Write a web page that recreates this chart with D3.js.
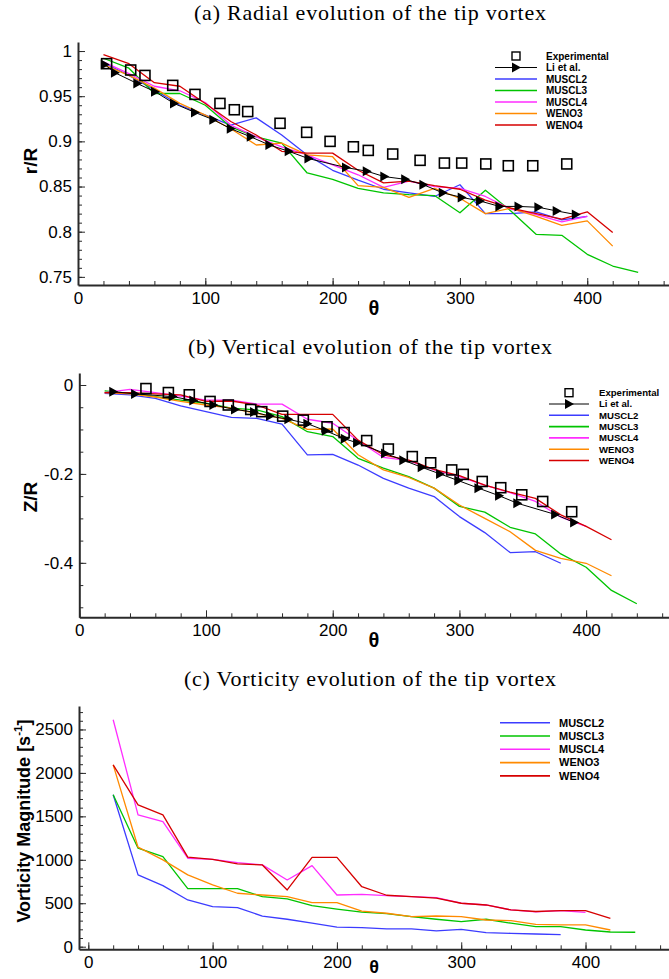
<!DOCTYPE html>
<html>
<head>
<meta charset="utf-8">
<script src="https://cdn.jsdelivr.net/npm/d3@7"></script>
<style>
body { margin: 0; background: #fff; }
svg { display: block; }
.tick text { font-family: "Liberation Sans", Arial, sans-serif; font-size: 17px; fill: #000; }
</style>
</head>
<body>
<script>
'use strict'

// CFD runs are sampled every 20 deg of wake age
const thetaSteps = [20, 40, 60, 80, 100, 120, 140, 160, 180, 200, 220, 240, 260, 280, 300, 320, 340, 360, 380, 400, 420, 440]
const schemeNames = ['MUSCL2', 'MUSCL3', 'MUSCL4', 'WENO3', 'WENO4']
const schemeColors = ['#3c3cff', '#00c400', '#ff2cff', '#ff8a00', '#d60000']

// (a) radial position r/R
const radialExpTheta = [22.5, 41.4, 52.6, 74.4, 91.9, 111.5, 122.8, 133.3, 158.7, 179.6, 198, 216.3, 228, 247.2, 268.7, 287.8, 301.4, 320.3, 338, 357.2, 383.9]
const radialExp = [0.986, 0.979, 0.973, 0.962, 0.952, 0.942, 0.935, 0.933, 0.920, 0.910, 0.900, 0.894, 0.890, 0.886, 0.879, 0.876, 0.876, 0.875, 0.873, 0.873, 0.875]
const radialLiTheta = [21, 29, 46.6, 60.5, 75.4, 91.9, 106.3, 120, 135.7, 150.3, 165.5, 181, 210.5, 226.8, 240.6, 257, 271.3, 286.5, 301.4, 315.8, 331, 346, 361.6, 376, 391]
const radialLi = [0.985, 0.976, 0.964, 0.955, 0.942, 0.932, 0.924, 0.914, 0.905, 0.896, 0.889, 0.881, 0.871, 0.867, 0.861, 0.858, 0.852, 0.843, 0.838, 0.834, 0.828, 0.828, 0.827, 0.823, 0.819]
const radialMUSCL2 = [0.987, 0.973, 0.957, 0.940, 0.929, 0.918, 0.926, 0.907, 0.885, 0.868, 0.857, 0.847, 0.843, 0.839, 0.852, 0.820, 0.820, 0.822, 0.813, 0.817]
const radialMUSCL3 = [0.992, 0.981, 0.953, 0.953, 0.940, 0.916, 0.905, 0.898, 0.865, 0.858, 0.848, 0.843, 0.841, 0.840, 0.821, 0.846, 0.823, 0.797, 0.796, 0.775, 0.762, 0.755]
const radialMUSCL4 = [0.988, 0.975, 0.961, 0.956, 0.943, 0.918, 0.905, 0.894, 0.885, 0.874, 0.863, 0.849, 0.856, 0.850, 0.848, 0.839, 0.825, 0.819, 0.811, 0.817]
const radialWENO3 = [0.985, 0.973, 0.959, 0.942, 0.929, 0.914, 0.896, 0.898, 0.885, 0.883, 0.851, 0.849, 0.838, 0.848, 0.837, 0.820, 0.826, 0.817, 0.807, 0.812, 0.784]
const radialWENO4 = [0.996, 0.986, 0.965, 0.961, 0.942, 0.922, 0.907, 0.889, 0.887, 0.887, 0.868, 0.854, 0.856, 0.851, 0.847, 0.835, 0.826, 0.820, 0.814, 0.822, 0.799]
const radialTicks = [0.75, 0.8, 0.85, 0.9, 0.95, 1]

// (b) vertical position Z/R
const verticalExpTheta = [52.6, 70.3, 86.8, 103.2, 117.6, 135.3, 144, 160.5, 176.8, 195.5, 209, 226.8, 243.9, 262.8, 277.3, 293.9, 303, 318, 332.6, 349.2, 365.7, 388.6]
const verticalExp = [-0.008, -0.017, -0.022, -0.037, -0.045, -0.055, -0.060, -0.070, -0.079, -0.094, -0.107, -0.125, -0.144, -0.161, -0.175, -0.191, -0.201, -0.217, -0.231, -0.247, -0.262, -0.285]
const verticalLiTheta = [26.8, 44, 73.7, 90, 105.8, 122.9, 137.9, 150.5, 165, 180, 194.5, 209.5, 219.2, 241.3, 255.7, 270.2, 284.7, 299.1, 315, 331.3, 345.7, 375.5, 390.5]
const verticalLi = [-0.015, -0.020, -0.026, -0.035, -0.045, -0.055, -0.061, -0.070, -0.077, -0.087, -0.103, -0.121, -0.130, -0.154, -0.169, -0.185, -0.200, -0.215, -0.232, -0.249, -0.266, -0.291, -0.309]
const verticalMUSCL2 = [-0.019, -0.022, -0.030, -0.047, -0.060, -0.073, -0.075, -0.088, -0.157, -0.156, -0.180, -0.210, -0.232, -0.251, -0.296, -0.332, -0.377, -0.375, -0.401]
const verticalMUSCL3 = [-0.013, -0.019, -0.026, -0.034, -0.041, -0.052, -0.056, -0.071, -0.105, -0.116, -0.165, -0.187, -0.206, -0.232, -0.273, -0.286, -0.320, -0.335, -0.380, -0.410, -0.462, -0.492]
const verticalMUSCL4 = [-0.017, -0.010, -0.017, -0.025, -0.034, -0.034, -0.043, -0.043, -0.077, -0.086, -0.125, -0.163, -0.170, -0.191, -0.206, -0.225, -0.242, -0.262, -0.297, -0.318]
const verticalWENO3 = [-0.017, -0.020, -0.027, -0.037, -0.045, -0.052, -0.064, -0.075, -0.100, -0.099, -0.157, -0.191, -0.208, -0.232, -0.270, -0.300, -0.330, -0.372, -0.390, -0.401, -0.429]
const verticalWENO4 = [-0.017, -0.017, -0.020, -0.022, -0.037, -0.036, -0.045, -0.066, -0.066, -0.066, -0.124, -0.157, -0.169, -0.190, -0.204, -0.225, -0.241, -0.255, -0.292, -0.318, -0.348]
const verticalTicks = [-0.4, -0.2, 0]

// (c) vorticity magnitude [1/s]
const vortMUSCL2 = [1748, 826, 703, 538, 461, 449, 353, 316, 270, 225, 219, 204, 204, 181, 200, 161, 154, 146, 138]
const vortMUSCL3 = [1748, 1134, 1037, 668, 668, 668, 576, 550, 472, 432, 398, 380, 346, 316, 288, 316, 270, 230, 230, 192, 169, 166]
const vortMUSCL4 = [2612, 1517, 1440, 1018, 1006, 968, 941, 768, 933, 595, 603, 587, 576, 565, 500, 480, 423, 400, 415, 396]
const vortWENO3 = [2093, 1145, 999, 826, 711, 615, 595, 576, 507, 507, 409, 385, 346, 353, 346, 307, 300, 258, 250, 250, 192]
const vortWENO4 = [2093, 1632, 1517, 1030, 1006, 952, 941, 653, 1027, 1027, 690, 592, 576, 558, 500, 480, 423, 405, 415, 415, 327]
const vortTicks = [0, 500, 1000, 1500, 2000, 2500]

const thetaTicks = [0, 100, 200, 300, 400]

const W = 669, H = 979
const svg = d3.select('body').append('svg').attr('width', W).attr('height', H)
svg.append('rect').attr('width', W).attr('height', H).attr('fill', '#fff')

const sans = '"Liberation Sans", Arial, sans-serif'
const serif = '"Liberation Serif", "Times New Roman", serif'
const triangle = 'M-4,-5L5,0L-4,5Z'   // Li et al. marker, pointing right

function drawPanel(p) {
    const g = svg.append('g')
    const x = d3.scaleLinear().domain(p.xDomain).range(p.xRange)
    const y = d3.scaleLinear().domain(p.yDomain).range(p.yRange)
    const yBase = p.yRange[0], xBase = p.xRange[0]

    // minor ticks first, then major ticks with the axis lines
    g.append('g').attr('transform', `translate(0,${yBase})`)
        .call(d3.axisBottom(x).tickValues(d3.range(0, p.xDomain[1], 20)).tickFormat('').tickSizeInner(-4).tickSizeOuter(0))
        .call(a => a.select('.domain').remove())
    g.append('g').attr('transform', `translate(${xBase},0)`)
        .call(d3.axisLeft(y).tickValues(p.yMinor).tickFormat('').tickSizeInner(-4).tickSizeOuter(0))
        .call(a => a.select('.domain').remove())
    g.append('g').attr('transform', `translate(0,${yBase})`)
        .call(d3.axisBottom(x).tickValues(thetaTicks).tickSizeInner(-7).tickSizeOuter(0).tickPadding(7))
    g.append('g').attr('transform', `translate(${xBase},0)`)
        .call(d3.axisLeft(y).tickValues(p.yTicks).tickFormat(d => String(d)).tickSizeInner(-7).tickSizeOuter(0).tickPadding(6))
    g.selectAll('.domain').attr('stroke', '#2a2a2a').attr('stroke-width', 2)
    g.selectAll('.tick line').attr('stroke', '#2a2a2a')

    // titles
    svg.append('text').attr('x', 370).attr('y', p.titleY).attr('text-anchor', 'middle')
        .attr('font-family', serif).attr('font-size', 22)
        .attr('textLength', p.titleWidth).attr('lengthAdjust', 'spacing').text(p.title)
    svg.append('text').attr('x', 374).attr('y', yBase + p.thetaDy).attr('text-anchor', 'middle')
        .attr('font-family', sans).attr('font-weight', 'bold').attr('font-size', p.thetaSize).text('θ')
    const yl = svg.append('text').attr('transform', `translate(${p.yLabelX},${p.yLabelY}) rotate(-90)`)
        .attr('text-anchor', 'middle').attr('font-family', sans).attr('font-weight', 'bold')
        .attr('font-size', p.yLabelSize).text(p.yLabel)
    if (p.yLabelSup) {
        yl.append('tspan').attr('font-size', p.yLabelSize * 0.65).attr('dy', -8).text(p.yLabelSup)
        yl.append('tspan').attr('dy', 8).text(']')
    }

    // CFD lines
    const line = d3.line().x(d => x(d[0])).y(d => y(d[1]))
    p.series.forEach((vals, i) => {
        const pts = vals.map((v, k) => [thetaSteps[k], v])
        g.append('path').datum(pts).attr('d', line).attr('fill', 'none')
            .attr('stroke', schemeColors[i]).attr('stroke-width', 1.3).attr('stroke-linejoin', 'round')
    })

    // reference data
    if (p.li) {
        const pts = p.li[0].map((t, k) => [t, p.li[1][k]])
        g.append('path').datum(pts).attr('d', line).attr('fill', 'none').attr('stroke', '#000').attr('stroke-width', 1)
        g.selectAll('.tri').data(pts).enter().append('path').attr('class', 'tri')
            .attr('d', triangle).attr('transform', d => `translate(${x(d[0])},${y(d[1])})`).attr('fill', '#000')
    }
    if (p.exp) {
        const pts = p.exp[0].map((t, k) => [t, p.exp[1][k]])
        g.selectAll('.sq').data(pts).enter().append('rect').attr('class', 'sq')
            .attr('x', d => x(d[0]) - 5).attr('y', d => y(d[1]) - 5).attr('width', 10).attr('height', 10)
            .attr('fill', 'none').attr('stroke', '#000').attr('stroke-width', 1.6)
    }

    // legend
    const L = p.legend
    const rows = []
    if (p.exp) rows.push({ name: 'Experimental', kind: 'sq' })
    if (p.li) rows.push({ name: p.liName, kind: 'li' })
    schemeNames.forEach((n, i) => rows.push({ name: n, kind: 'line', color: schemeColors[i] }))
    const lg = svg.append('g')
    rows.forEach((r, i) => {
        const ry = L.y + i * L.step
        const cx = (L.x0 + L.x1) / 2
        if (r.kind === 'sq') {
            lg.append('rect').attr('x', cx - 4).attr('y', ry - 4).attr('width', 8).attr('height', 8)
                .attr('fill', 'none').attr('stroke', '#000').attr('stroke-width', 1.4)
        } else {
            lg.append('line').attr('x1', L.x0).attr('x2', L.x1).attr('y1', ry).attr('y2', ry)
                .attr('stroke', r.kind === 'li' ? '#000' : r.color).attr('stroke-width', r.kind === 'li' ? 1 : 1.6)
            if (r.kind === 'li') lg.append('path').attr('d', triangle).attr('transform', `translate(${cx},${ry})`)
        }
        lg.append('text').attr('x', L.tx).attr('y', ry).attr('dy', '0.35em')
            .attr('font-family', sans).attr('font-weight', 'bold').attr('font-size', L.size).text(r.name)
    })
}

drawPanel({
    title: '(a) Radial evolution of the tip vortex', titleY: 20, titleWidth: 352,
    xDomain: [0, 465], xRange: [78, 670], thetaDy: 30, thetaSize: 20,
    yDomain: [0.741, 1.010], yRange: [285, 42],
    yTicks: radialTicks, yMinor: d3.range(75, 101).map(v => v / 100),
    yLabel: 'r/R', yLabelX: 37, yLabelY: 161, yLabelSize: 19,
    series: [radialMUSCL2, radialMUSCL3, radialMUSCL4, radialWENO3, radialWENO4],
    exp: [radialExpTheta, radialExp], li: [radialLiTheta, radialLi], liName: 'Li et al.',
    legend: { x0: 495, x1: 537, tx: 546, y: 56, step: 11.5, size: 10 }
})

drawPanel({
    title: '(b) Vertical evolution of the tip vortex', titleY: 354, titleWidth: 364,
    xDomain: [0, 465], xRange: [79.3, 668.5], thetaDy: 30, thetaSize: 20,
    yDomain: [-0.5225, 0.027], yRange: [617.3, 373],
    yTicks: verticalTicks, yMinor: d3.range(-10, 1).map(v => v / 20),
    yLabel: 'Z/R', yLabelX: 37, yLabelY: 497, yLabelSize: 19,
    series: [verticalMUSCL2, verticalMUSCL3, verticalMUSCL4, verticalWENO3, verticalWENO4],
    exp: [verticalExpTheta, verticalExp], li: [verticalLiTheta, verticalLi], liName: 'Li et al.',
    legend: { x0: 549, x1: 589, tx: 599, y: 392.7, step: 11.3, size: 9.6 }
})

drawPanel({
    title: '(c) Vorticity evolution of the tip vortex', titleY: 686, titleWidth: 372,
    xDomain: [-7.5, 467], xRange: [79, 668.8], thetaDy: 24, thetaSize: 18,
    yDomain: [-30, 2770], yRange: [949.3, 706],
    yTicks: vortTicks, yMinor: d3.range(0, 28).map(v => v * 100),
    yLabel: 'Vorticity Magnitude [s', yLabelSup: '-1', yLabelX: 30, yLabelY: 821, yLabelSize: 18,
    series: [vortMUSCL2, vortMUSCL3, vortMUSCL4, vortWENO3, vortWENO4],
    legend: { x0: 500, x1: 550, tx: 559, y: 722.7, step: 13.3, size: 11 }
})
</script>
</body>
</html>
